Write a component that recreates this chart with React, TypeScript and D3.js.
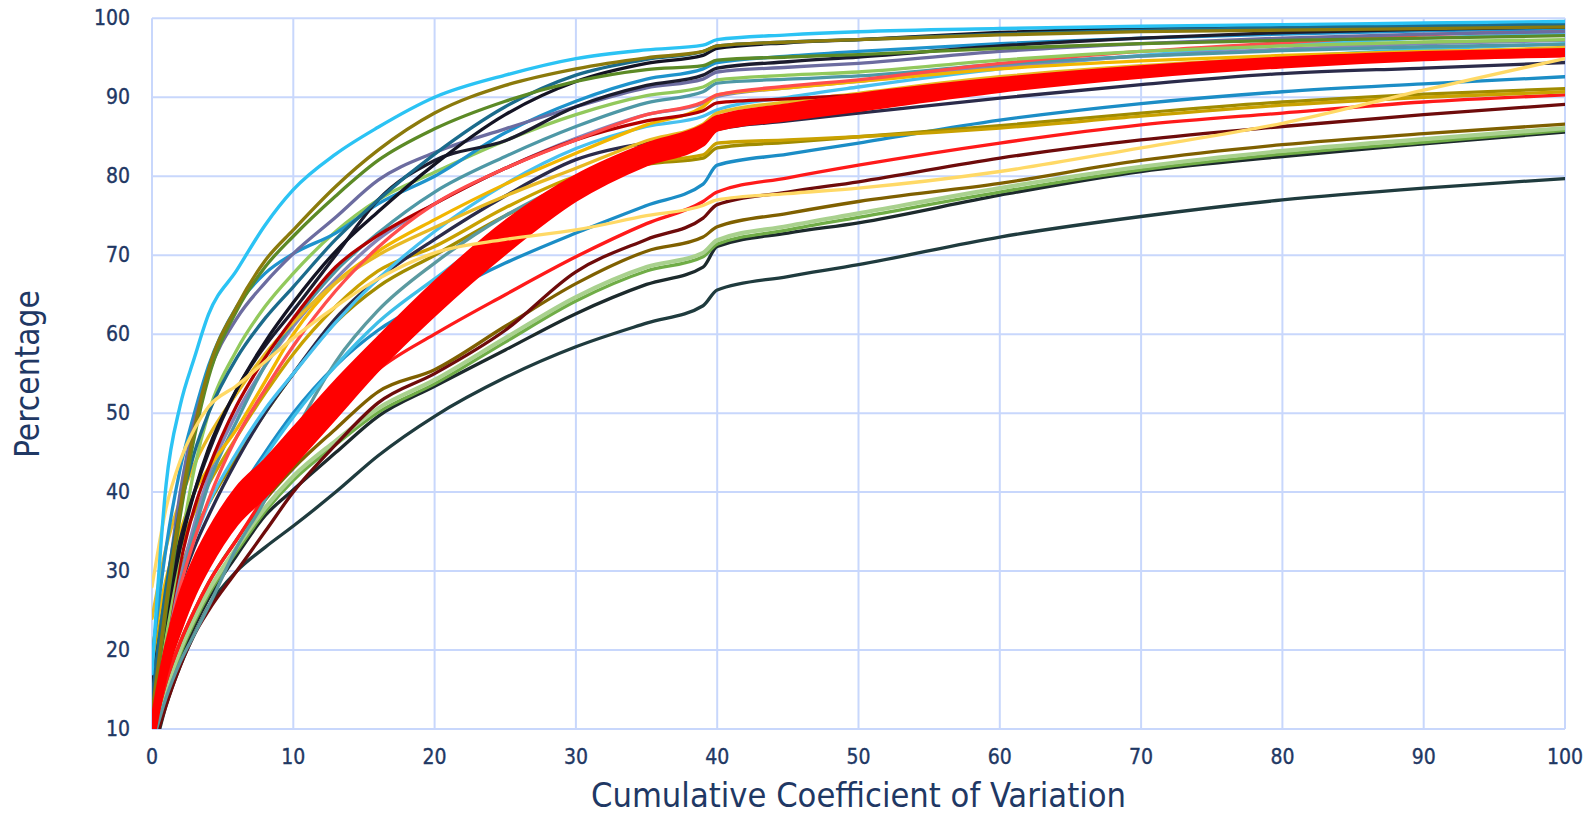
import React from 'react';
import * as d3 from 'd3';

// Sample positions along the cumulative CV axis
const cvSteps = [0, 1, 2, 3, 4, 6, 8, 10, 13, 16, 20, 25, 30, 35, 39, 40, 45, 50, 60, 70, 80, 90, 100];

const xTickValues = [0, 10, 20, 30, 40, 50, 60, 70, 80, 90, 100];
const yTickValues = [10, 20, 30, 40, 50, 60, 70, 80, 90, 100];

// Percentage curves, one array per series, aligned with cvSteps
const slate = [6, 13, 18, 22, 25.5, 30, 33, 35.7, 40, 44.6, 49.6, 54.5, 58.4, 61.4, 63.6, 65.6, 67.3, 68.8, 72.3, 74.9, 77.0, 78.5, 79.7];
const dark = [7, 14, 19, 23, 26.5, 32, 37, 40.3, 45, 49.6, 53.4, 58, 62.6, 66.3, 68.5, 71.1, 72.8, 74.1, 77.6, 80.6, 82.5, 84.1, 85.6];
const greenMid = [7.5, 14.5, 19.5, 23.5, 27, 32.5, 37.5, 41.5, 46, 50.1, 53.7, 59, 64.2, 68, 69.8, 71.4, 73.2, 74.8, 78.0, 80.8, 82.8, 84.3, 85.8];
const paleGreen = [8, 15, 20, 24, 27.5, 33, 38, 42, 46.5, 50.6, 54.2, 59.5, 64.7, 68.5, 70.3, 71.9, 73.7, 75.3, 78.5, 81.2, 83.2, 84.7, 86.1];
const oliveBrown = [9, 16, 21, 25, 28.5, 34, 39, 43, 48, 52.7, 55.5, 61, 66.4, 70.5, 72.3, 73.6, 75.3, 76.8, 79.1, 82.0, 84.0, 85.4, 86.6];
const maroon = [7, 13, 18, 22, 25, 30, 35, 40, 46, 51.3, 55, 60.5, 67.9, 72, 74.7, 76.4, 78, 79.3, 82.3, 84.6, 86.3, 87.8, 89.1];
const redThin = [9, 16, 21, 25, 28.5, 34, 39.5, 44.5, 50.5, 55.5, 60, 65, 69.8, 74, 76.8, 78.0, 79.8, 81.4, 84.2, 86.5, 88.0, 89.4, 90.3];
const blueTeal = [12, 20, 26, 30, 33.5, 39.5, 45, 50, 56, 60.5, 64.5, 69, 72.8, 76.3, 79.0, 81.4, 82.8, 84.2, 87.1, 89.2, 90.7, 91.7, 92.6];
const oliveGold = [15, 24, 30, 35, 38.5, 44.5, 50, 55, 61.5, 66, 70, 75, 79, 81.5, 82.3, 83.6, 84.3, 85.0, 86.4, 88.0, 89.4, 90.4, 91.1];
const gold = [18, 27, 33, 37.5, 41, 47, 52.5, 57.5, 63.5, 68, 71.1, 76, 80.0, 81.8, 82.7, 84.2, 84.6, 85.0, 86.1, 87.6, 89.0, 90.0, 90.7];
const navyMid = [12, 21, 28, 33, 37, 44, 50, 55, 62, 67, 72, 77.5, 82.1, 84.2, 84.8, 85.9, 87.0, 88.0, 89.9, 91.6, 93.0, 93.7, 94.4];
const tealSteep = [8, 14, 18.5, 22, 25.5, 33, 39, 47, 56.5, 63, 69, 75, 79.5, 83, 85.2, 86.5, 88, 89.2, 91.5, 93.1, 94.2, 95.0, 95.6];
const cyanLow = [11, 19, 25, 29.5, 33, 39, 44.5, 49.5, 56, 61.5, 67, 73.5, 78.5, 82.5, 84.8, 86.0, 87.8, 89.3, 91.8, 93.7, 95.1, 96.1, 96.8];
const skyMid = [13, 22, 29, 34, 38.5, 45, 50.5, 55, 61.5, 67, 73, 79, 83.5, 86.3, 87.6, 88.4, 90.0, 91.3, 93.6, 95.3, 96.6, 97.5, 98.1];
const lavenderLow = [10, 20, 29, 36, 42, 50, 56, 61, 67, 72, 76.5, 81, 84.8, 87.8, 89.2, 90.1, 91.2, 92.0, 93.9, 95.2, 96.1, 96.8, 97.2];
const tealGray = [9, 19, 28, 35, 41, 49, 56, 61.5, 68, 72.8, 78, 82.5, 86.3, 89.3, 90.7, 91.8, 92.3, 92.7, 94.2, 95.2, 95.9, 96.4, 96.7];
const amber = [20, 29, 35, 40, 43, 48, 54, 60, 66.5, 70.5, 74.5, 79, 82.9, 86.5, 88.8, 90.3, 91.2, 92.0, 93.6, 94.6, 95.3, 95.8, 96.1];
const yellowGold = [24, 33, 39, 43.5, 47, 52.5, 57.5, 61.5, 66.5, 70, 73.5, 77.5, 81, 84.5, 86.6, 88.0, 89.4, 90.5, 92.6, 94.0, 95.0, 95.7, 96.3];
const darkRed = [11, 22, 31, 38, 43, 51, 57, 62, 68.5, 72.5, 76.5, 81, 84.6, 87, 88.3, 89.3, 89.8, 90.3, 92.2, 93.6, 94.5, 95.0, 95.4];
const pinkRed = [10, 20, 28, 34, 39, 47, 53, 58.5, 65.5, 71, 76.5, 81, 84.6, 87.8, 89.4, 90.3, 91.4, 92.2, 94.3, 95.8, 96.9, 97.9, 98.6];
const lightGreen = [10, 22, 33, 43, 50, 58, 63.5, 67.7, 73, 77, 80.5, 84.5, 87.8, 90.2, 91.3, 92.2, 92.8, 93.2, 94.7, 95.8, 96.5, 97.0, 97.3];
const blueBumpy = [19, 33, 43, 50, 56, 63.5, 67.7, 70.2, 72.8, 76.5, 80.0, 85.5, 89.5, 92.3, 93.6, 94.4, 95.2, 95.8, 96.8, 97.5, 98.0, 98.4, 98.7];
const lavender = [13, 27, 40, 49, 55, 62, 66.5, 70.2, 74.8, 79.5, 83.0, 86.0, 88.8, 91.2, 92.3, 93.2, 93.8, 94.3, 95.8, 96.8, 97.5, 98.0, 98.3];
const blackNavy = [16, 26, 34, 40, 45, 53, 58.5, 63, 70, 77, 82, 84.5, 88.8, 91.5, 92.8, 93.7, 94.5, 95.1, 96.5, 97.5, 98.2, 98.6, 98.9];
const blackTop = [13, 24, 33, 40, 45.5, 53, 59, 64, 70.5, 75.5, 81.5, 87.8, 92.0, 94.3, 95.3, 96.2, 96.9, 97.3, 98.2, 98.8, 99.1, 99.3, 99.4];
const darkTeal = [14, 28, 38, 45, 50, 57, 62, 66, 72, 77.0, 82.8, 88.8, 92.8, 94.8, 95.8, 96.5, 97.0, 97.3, 98.0, 98.5, 98.8, 99.0, 99.2];
const green = [11, 25, 37, 47, 54.5, 63, 68.5, 72.4, 77.5, 82.0, 86.0, 89.5, 92.0, 93.5, 94.0, 94.7, 95.1, 95.4, 96.2, 96.8, 97.2, 97.5, 97.8];
const olive = [12, 26, 38, 48, 55.5, 63.5, 69.3, 73.2, 78.7, 83.3, 88.0, 91.5, 93.6, 95.0, 95.8, 96.5, 97.0, 97.3, 97.9, 98.3, 98.5, 98.7, 98.9];
const redA = [8, 17, 22.5, 27, 30.5, 36, 39.5, 43.5, 49.5, 55.5, 62.5, 70.3, 77.0, 81.5, 84.0, 85.9, 87.2, 88.4, 90.8, 92.6, 93.9, 94.8, 95.3];
const redB = [9, 18, 24, 28.5, 32, 37.5, 41, 45, 51, 57, 63.8, 71.6, 78, 82.5, 84.8, 86.3, 87.7, 88.9, 91.2, 93.0, 94.2, 95.0, 95.5];
const redC = [10, 19, 25.5, 30, 33.5, 39, 42.5, 46.5, 52.5, 58.3, 65.2, 72.9, 79, 83.3, 85.6, 86.8, 88.2, 89.5, 91.7, 93.3, 94.5, 95.3, 95.8];
const redD = [11, 20.5, 27, 31.5, 35, 40.5, 44, 48, 54, 59.5, 66.5, 74.2, 80.0, 84.0, 86.4, 87.5, 89.0, 90.3, 92.3, 93.8, 94.9, 95.6, 96.0];
const lightYellow = [28, 38, 44, 48, 50.8, 53.5, 56.5, 59.5, 63.5, 67, 70.3, 72, 73.2, 75.0, 76.3, 77.0, 77.8, 78.5, 80.6, 83.6, 86.7, 90.9, 94.9];
const skyTop = [17, 41, 51, 57, 62.5, 68.1, 73.8, 78.3, 82.8, 86.2, 90.0, 92.8, 94.9, 96.0, 96.6, 97.3, 97.9, 98.3, 98.7, 99.0, 99.2, 99.4, 99.6];

// Series drawn before the red bundle
const backSeries: { key: string; values: number[] }[] = [
  { key: 'slate', values: slate },
  { key: 'dark', values: dark },
  { key: 'greenMid', values: greenMid },
  { key: 'paleGreen', values: paleGreen },
  { key: 'oliveBrown', values: oliveBrown },
  { key: 'maroon', values: maroon },
  { key: 'redThin', values: redThin },
  { key: 'blueTeal', values: blueTeal },
  { key: 'oliveGold', values: oliveGold },
  { key: 'gold', values: gold },
  { key: 'navyMid', values: navyMid },
  { key: 'tealSteep', values: tealSteep },
  { key: 'cyanLow', values: cyanLow },
  { key: 'skyMid', values: skyMid },
  { key: 'lavenderLow', values: lavenderLow },
  { key: 'tealGray', values: tealGray },
  { key: 'amber', values: amber },
  { key: 'yellowGold', values: yellowGold },
  { key: 'darkRed', values: darkRed },
  { key: 'pinkRed', values: pinkRed },
  { key: 'lightGreen', values: lightGreen },
  { key: 'blueBumpy', values: blueBumpy },
  { key: 'lavender', values: lavender },
  { key: 'blackNavy', values: blackNavy },
  { key: 'blackTop', values: blackTop },
  { key: 'darkTeal', values: darkTeal },
  { key: 'green', values: green },
  { key: 'olive', values: olive },
];

// The tightly packed red series
const redBundle: { key: string; values: number[] }[] = [
  { key: 'redA', values: redA },
  { key: 'redB', values: redB },
  { key: 'redC', values: redC },
  { key: 'redD', values: redD },
];

// Series drawn on top
const frontSeries: { key: string; values: number[] }[] = [
  { key: 'lightYellow', values: lightYellow },
  { key: 'skyTop', values: skyTop },
];

const lineStyle: Record<string, { color: string; width: number }> = {
  slate: { color: '#1f3b3e', width: 3.3 },
  dark: { color: '#1c2a2c', width: 3.3 },
  greenMid: { color: '#70ad47', width: 3.3 },
  paleGreen: { color: '#a9d18e', width: 4.2 },
  oliveBrown: { color: '#7f6000', width: 3.3 },
  maroon: { color: '#6e0b0b', width: 3.3 },
  redThin: { color: '#ff1a1a', width: 3.3 },
  blueTeal: { color: '#1b8dc6', width: 3.3 },
  oliveGold: { color: '#a08b00', width: 3.3 },
  gold: { color: '#c9a100', width: 3.3 },
  navyMid: { color: '#2b2b4a', width: 3.3 },
  tealSteep: { color: '#5b9aa0', width: 3.3 },
  cyanLow: { color: '#3fbfe8', width: 3.3 },
  skyMid: { color: '#48c1f0', width: 3.3 },
  lavenderLow: { color: '#8585b8', width: 3.3 },
  tealGray: { color: '#4e98a6', width: 3.3 },
  amber: { color: '#f2b600', width: 3.3 },
  yellowGold: { color: '#e8b923', width: 3.3 },
  darkRed: { color: '#b30000', width: 3.3 },
  pinkRed: { color: '#ff4d4d', width: 3.3 },
  lightGreen: { color: '#92c95c', width: 3.3 },
  blueBumpy: { color: '#1e93cc', width: 3.3 },
  lavender: { color: '#6c6ca0', width: 3.3 },
  blackNavy: { color: '#1c1c2e', width: 3.3 },
  blackTop: { color: '#141424', width: 3.3 },
  darkTeal: { color: '#1b6b8c', width: 3.3 },
  green: { color: '#5c8a26', width: 3.3 },
  olive: { color: '#8b7a0c', width: 3.3 },
  redA: { color: '#ff0000', width: 4 },
  redB: { color: '#ff0000', width: 4 },
  redC: { color: '#ff0000', width: 4 },
  redD: { color: '#ff0000', width: 4 },
  lightYellow: { color: '#ffd966', width: 3.3 },
  skyTop: { color: '#2bc3f4', width: 3.4 },
};

const W = 1596;
const H = 814;
const plot = { left: 152, right: 1565, top: 18.3, bottom: 729 };
const gridColor = '#c8d7fc';
const textColor = '#1f3864';
const fontFamily = "'DejaVu Sans Condensed', 'DejaVu Sans', Verdana, sans-serif";

export default function App() {
  const x = d3.scaleLinear().domain([0, 100]).range([plot.left, plot.right]);
  const y = d3.scaleLinear().domain([10, 100]).range([plot.bottom, plot.top]);

  const line = d3
    .line<number>()
    .x((_, i) => x(cvSteps[i]))
    .y((d) => y(d))
    .curve(d3.curveMonotoneX);

  // ribbon spanning the outer red series
  const ribbon = d3
    .area<number>()
    .x((_, i) => x(cvSteps[i]))
    .y0((_, i) => y(redA[i]))
    .y1((_, i) => y(redD[i]))
    .curve(d3.curveMonotoneX);

  const drawSeries = (list: { key: string; values: number[] }[]) =>
    list.map((s) => (
      <path
        key={s.key}
        d={line(s.values) || ''}
        stroke={lineStyle[s.key].color}
        strokeWidth={lineStyle[s.key].width}
      />
    ));

  return (
    <svg
      width={W}
      height={H}
      viewBox={`0 0 ${W} ${H}`}
      style={{ position: 'absolute', left: 0, top: 0, background: '#ffffff' }}
    >
      <defs>
        <clipPath id="plot-clip">
          <rect
            x={plot.left}
            y={plot.top}
            width={plot.right - plot.left}
            height={plot.bottom - plot.top}
          />
        </clipPath>
      </defs>

      {/* gridlines */}
      <g stroke={gridColor} strokeWidth={2} fill="none">
        {xTickValues.map((t) => (
          <line key={`vx${t}`} x1={x(t)} x2={x(t)} y1={y(100)} y2={y(10)} />
        ))}
        {yTickValues.map((t) => (
          <line key={`hy${t}`} x1={x(0)} x2={x(100)} y1={y(t)} y2={y(t)} />
        ))}
      </g>

      {/* curves */}
      <g clipPath="url(#plot-clip)" fill="none" strokeLinejoin="round" strokeLinecap="round">
        {drawSeries(backSeries)}
        <path d={ribbon(redA) || ''} fill="#ff0000" stroke="none" />
        {drawSeries(redBundle)}
        {drawSeries(frontSeries)}
      </g>

      {/* y tick labels */}
      <g
        fill={textColor}
        stroke={textColor}
        strokeWidth={0.35}
        fontFamily={fontFamily}
        fontSize={21}
        style={{ fontStretch: 'condensed' }}
      >
        {yTickValues.map((t) => (
          <text key={`yl${t}`} x={130} y={y(t)} textAnchor="end" dominantBaseline="central">
            {t}
          </text>
        ))}
      </g>

      {/* x tick labels */}
      <g
        fill={textColor}
        stroke={textColor}
        strokeWidth={0.35}
        fontFamily={fontFamily}
        fontSize={21}
        style={{ fontStretch: 'condensed' }}
      >
        {xTickValues.map((t) => (
          <text key={`xl${t}`} x={x(t)} y={757} textAnchor="middle" dominantBaseline="central">
            {t}
          </text>
        ))}
      </g>

      {/* axis titles */}
      <text
        x={(plot.left + plot.right) / 2}
        y={807}
        textAnchor="middle"
        fill={textColor}
        fontFamily={fontFamily}
        fontSize={33}
        textLength={535}
        lengthAdjust="spacingAndGlyphs"
      >
        Cumulative Coefficient of Variation
      </text>
      <text
        transform="translate(39, 374) rotate(-90)"
        textAnchor="middle"
        fill={textColor}
        fontFamily={fontFamily}
        fontSize={33}
        textLength={168}
        lengthAdjust="spacingAndGlyphs"
      >
        Percentage
      </text>
    </svg>
  );
}
